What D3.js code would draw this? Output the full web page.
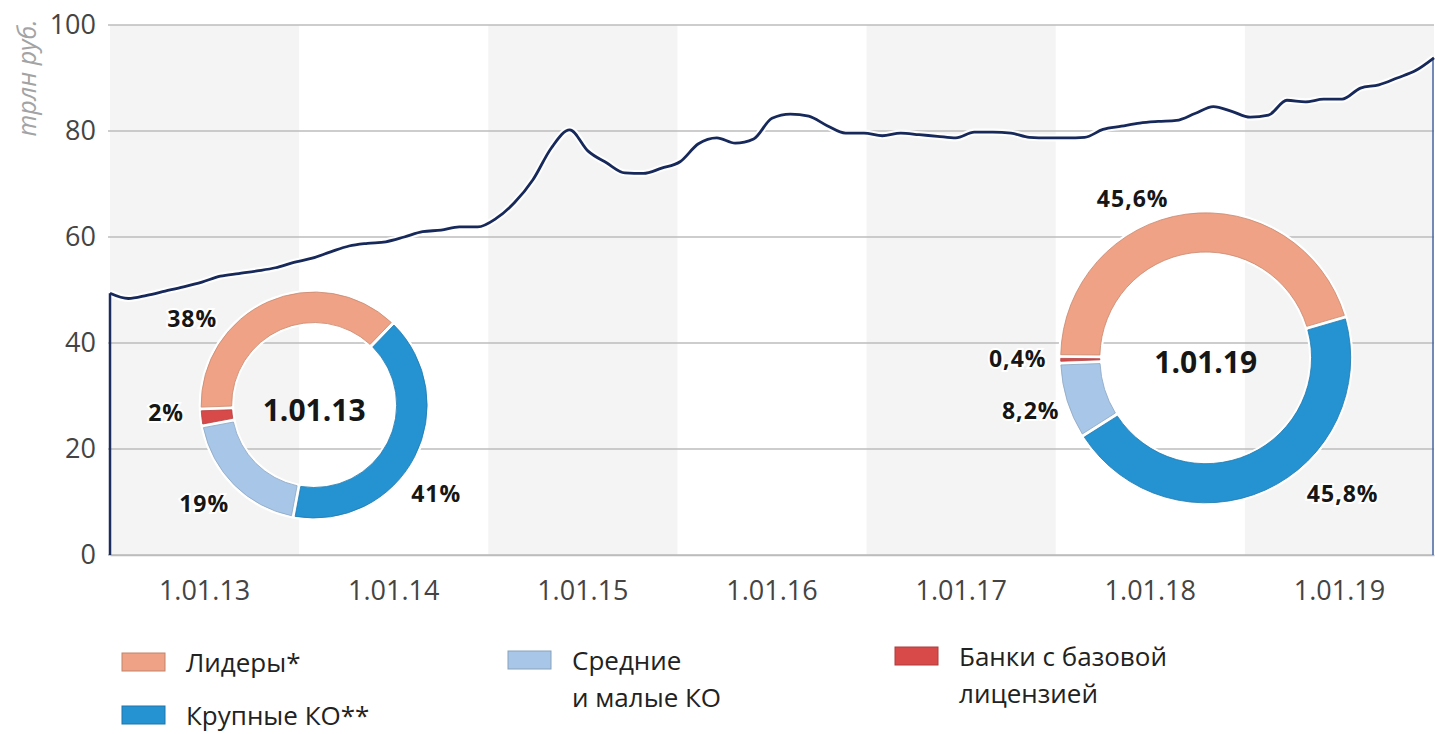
<!DOCTYPE html>
<html>
<head>
<meta charset="utf-8">
<script src="https://cdn.jsdelivr.net/npm/d3@7"></script>
<style>
  body { margin: 0; background: #fff; }
  text { font-family: "Open Sans", sans-serif; }
</style>
</head>
<body>
<script>
// x-axis year labels (one band per year)
const years = ["1.01.13", "1.01.14", "1.01.15", "1.01.16", "1.01.17", "1.01.18", "1.01.19"];

// monthly total assets, trln rub, 1.01.13 .. 1.01.19 (73 points)
const assets = [
  49.4, 48.4, 49.0, 49.8, 50.6, 51.5, 52.6, 53.1, 53.6, 54.2, 55.2, 56.0,
  57.2, 58.3, 58.8, 59.1, 60.0, 61.0, 61.3, 61.9, 61.9, 63.5, 66.5, 70.8,
  76.8, 80.2, 76.2, 74.0, 72.1, 72.0, 73.0, 74.2, 77.6, 78.7, 77.7, 78.5,
  82.4, 83.2, 82.8, 81.0, 79.6, 79.6, 79.1, 79.6, 79.3, 79.0, 78.7, 79.8,
  79.8, 79.6, 78.8, 78.7, 78.7, 78.8, 80.3, 80.9, 81.5, 81.8, 82.0, 83.3,
  84.6, 83.7, 82.6, 83.0, 85.8, 85.5, 86.0, 86.0, 88.1, 88.7, 90.0, 91.4,
  93.8
];

const yTicks = [0, 20, 40, 60, 80, 100];

// bank groups
const groups = ["Лидеры*", "Крупные КО**", "Средние и малые КО", "Банки с базовой лицензией"];
const groupColors = ["#efa285", "#2592d2", "#a8c7e8", "#d84a4a"];
const legendLines = [["Лидеры*"], ["Крупные КО**"], ["Средние", "и малые КО"], ["Банки с базовой", "лицензией"]];

// shares, % (same order as groups)
const share13 = [38, 41, 19, 2];
const share19 = [45.6, 45.8, 8.2, 0.4];

const w = 1435, h = 734;
const margin = { top: 25, right: 1, bottom: 179, left: 110 };

const svg = d3.select("body").append("svg")
  .attr("width", w)
  .attr("height", h);

const xBand = d3.scaleBand()
  .domain(years)
  .range([margin.left, w - margin.right])
  .padding(0);

const x = d3.scaleLinear()
  .domain([0, assets.length - 1])
  .range([margin.left, w - margin.right]);

const y = d3.scaleLinear()
  .domain([0, 100])
  .range([h - margin.bottom, margin.top]);

// alternating year bands
svg.append("g").selectAll("rect")
  .data(years.filter((d, i) => i % 2 === 0))
  .join("rect")
  .attr("x", d => xBand(d))
  .attr("y", y(100))
  .attr("width", xBand.bandwidth())
  .attr("height", y(0) - y(100))
  .attr("fill", "#f4f4f4");

// grid
svg.append("g").selectAll("line")
  .data(yTicks)
  .join("line")
  .attr("x1", margin.left - 2)
  .attr("x2", w - margin.right)
  .attr("y1", d => y(d))
  .attr("y2", d => y(d))
  .attr("stroke", "#bcbcbc")
  .attr("stroke-width", 1.5);

// y axis
const yAxis = svg.append("g")
  .attr("transform", `translate(${margin.left},0)`)
  .call(d3.axisLeft(y).tickValues(yTicks).tickSize(0).tickPadding(14));
yAxis.select(".domain").remove();
yAxis.selectAll("text")
  .attr("font-size", 27)
  .attr("fill", "#444")
  .attr("font-family", "Open Sans");

svg.append("text")
  .attr("transform", "translate(36,78) rotate(-90)")
  .attr("text-anchor", "middle")
  .attr("font-size", 25)
  .attr("font-style", "italic")
  .attr("fill", "#a3a3a3")
  .text("трлн руб.");

// x axis
const xAxis = svg.append("g")
  .attr("transform", `translate(0,${y(0)})`)
  .call(d3.axisBottom(xBand).tickSize(0).tickPadding(26));
xAxis.select(".domain").attr("stroke", "#bcbcbc").attr("stroke-width", 1.5);
xAxis.selectAll("text")
  .attr("font-size", 27)
  .attr("fill", "#444")
  .attr("font-family", "Open Sans");

// assets line
const line = d3.line()
  .x((d, i) => x(i))
  .y(d => y(d))
  .curve(d3.curveMonotoneX);

svg.append("path")
  .datum(assets)
  .attr("d", line)
  .attr("fill", "none")
  .attr("stroke", "#fff")
  .attr("stroke-width", 7)
  .attr("stroke-opacity", 0.9);

svg.append("line")
  .attr("x1", x(0)).attr("x2", x(0))
  .attr("y1", y(assets[0])).attr("y2", y(0))
  .attr("stroke", "#1b2d5e").attr("stroke-width", 2.5);

svg.append("line")
  .attr("x1", x(assets.length - 1) - 1).attr("x2", x(assets.length - 1) - 1)
  .attr("y1", y(assets[assets.length - 1])).attr("y2", y(0))
  .attr("stroke", "#4766a3").attr("stroke-width", 1.5);

svg.append("path")
  .datum(assets)
  .attr("d", line)
  .attr("fill", "none")
  .attr("stroke", "#17295a")
  .attr("stroke-width", 2.8)
  .attr("stroke-linejoin", "round");

// donuts
const fmtPct = v => String(v).replace(".", ",") + "%";
const ringOrder = [1, 2, 3, 0]; // clockwise from the start angle

function donut(shares, opts) {
  const g = svg.append("g")
    .attr("transform", `translate(${opts.cx},${opts.cy})`);

  const pie = d3.pie()
    .sort(null)
    .value(i => shares[i])
    .startAngle(opts.start * Math.PI / 180)
    .endAngle(opts.start * Math.PI / 180 + 2 * Math.PI)
    .padAngle(3 / opts.r);

  const arc = d3.arc()
    .innerRadius(opts.r * 0.73)
    .outerRadius(opts.r);

  g.append("circle")
    .attr("r", opts.r * 0.865)
    .attr("fill", "none")
    .attr("stroke", "#fff")
    .attr("stroke-width", opts.r * 0.27 + 5);

  g.selectAll("path")
    .data(pie(ringOrder))
    .join("path")
    .attr("d", arc)
    .attr("fill", d => groupColors[d.data])
    .attr("stroke", d => d3.color(groupColors[d.data]).darker(0.5))
    .attr("stroke-width", 0.8);

  g.append("text")
    .attr("y", opts.labelDy)
    .attr("text-anchor", "middle")
    .attr("dominant-baseline", "central")
    .attr("font-size", 30)
    .attr("font-weight", 700)
    .attr("fill", "#161616")
    .text(opts.date);

  g.selectAll("text.pct")
    .data(shares)
    .join("text")
    .attr("class", "pct")
    .attr("x", (d, i) => opts.offsets[i][0])
    .attr("y", (d, i) => opts.offsets[i][1])
    .attr("text-anchor", "middle")
    .attr("dominant-baseline", "central")
    .attr("font-size", 23)
    .attr("font-weight", 700)
    .attr("letter-spacing", 1)
    .attr("fill", "#161616")
    .attr("stroke", "#fff")
    .attr("stroke-width", 4)
    .attr("paint-order", "stroke")
    .text(d => fmtPct(d));
}

donut(share13, {
  cx: xBand(years[1]) + 15, cy: y(28.3), r: 113, start: 44, date: years[0], labelDy: 4,
  offsets: [[-122, -87], [122, 88], [-110, 98], [-148, 7]]
});

donut(share19, {
  cx: xBand(years[5]) + 150, cy: y(37.2), r: 145, start: 73.7, date: years[6], labelDy: 4,
  offsets: [[-73, -160], [137, 135], [-175, 52], [-188, 0]]
});

// legend
const legendPos = [[122, 662], [122, 715], [508, 660], [895, 656]];
const legend = svg.append("g").selectAll("g")
  .data(groups)
  .join("g")
  .attr("transform", (d, i) => `translate(${legendPos[i][0]},${legendPos[i][1]})`);

legend.append("rect")
  .attr("x", 0).attr("y", -9)
  .attr("width", 43).attr("height", 18)
  .attr("fill", (d, i) => groupColors[i])
  .attr("stroke", (d, i) => d3.color(groupColors[i]).darker(0.6))
  .attr("stroke-width", 1);

legend.each(function (d, i) {
  const t = d3.select(this).append("text")
    .attr("x", 64)
    .attr("font-size", 26)
    .attr("fill", "#222");
  legendLines[i].forEach((s, k) => {
    t.append("tspan")
      .attr("x", 64)
      .attr("y", k * 37)
      .attr("dominant-baseline", "central")
      .text(s);
  });
});
</script>
</body>
</html>
